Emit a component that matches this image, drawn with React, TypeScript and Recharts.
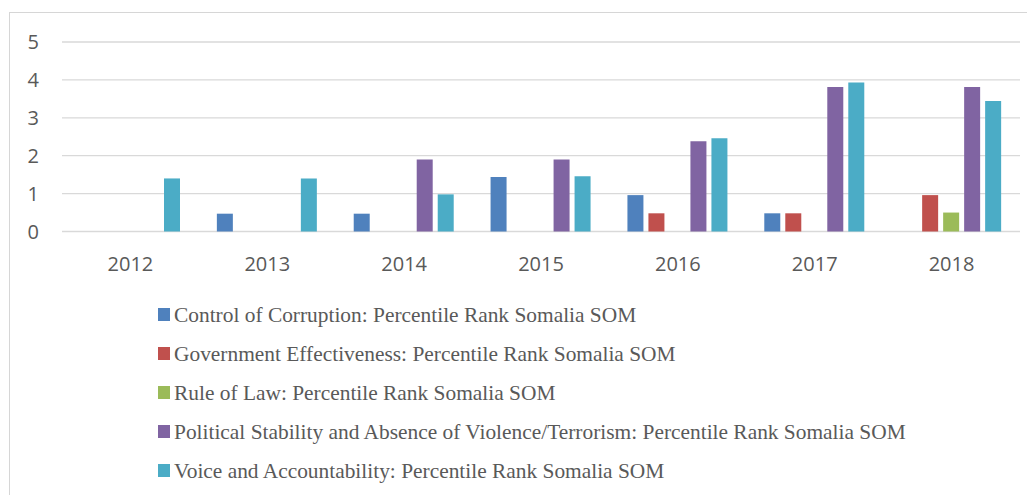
import React from "react";
import { BarChart, Bar, XAxis, YAxis, CartesianGrid } from "recharts";

const years = ["2012", "2013", "2014", "2015", "2016", "2017", "2018"];
const controlOfCorruption = [null, 0.47, 0.47, 1.44, 0.96, 0.48, null];
const governmentEffectiveness = [null, null, null, null, 0.48, 0.48, 0.96];
const ruleOfLaw = [null, null, null, null, null, null, 0.5];
const politicalStability = [null, null, 1.9, 1.9, 2.38, 3.81, 3.81];
const voiceAccountability = [1.4, 1.4, 0.98, 1.46, 2.46, 3.93, 3.44];
const yTicks = [0, 1, 2, 3, 4, 5];

const seriesNames = [
  "Control of Corruption: Percentile Rank Somalia SOM",
  "Government Effectiveness: Percentile Rank Somalia SOM",
  "Rule of Law: Percentile Rank Somalia SOM",
  "Political Stability and Absence of Violence/Terrorism: Percentile Rank Somalia SOM",
  "Voice and Accountability: Percentile Rank Somalia SOM",
];
const seriesKeys = ["cc", "ge", "rl", "ps", "va"];
const seriesColors = ["#4F81BD", "#C0504D", "#9BBB59", "#8064A2", "#4BACC6"];
const seriesValues = [
  controlOfCorruption,
  governmentEffectiveness,
  ruleOfLaw,
  politicalStability,
  voiceAccountability,
];

const data = years.map((y, i) => {
  const row: Record<string, any> = { year: y };
  seriesKeys.forEach((k, s) => {
    row[k] = seriesValues[s][i];
  });
  return row;
});

const axisFont = { fontFamily: "'Open Sans', sans-serif", fontSize: 20, fill: "#595959" };

export default function App() {
  return (
    <div style={{ position: "relative", width: 1027, height: 487, overflow: "hidden" }}>
      <div
        style={{
          position: "absolute",
          left: 1,
          top: 4,
          width: 1100,
          height: 600,
          borderTop: "1px solid #d6d6d6",
          borderLeft: "1px solid #d6d6d6",
        }}
      />
      <div style={{ position: "absolute", left: 0, top: 0 }}>
        <BarChart
          width={1027}
          height={300}
          data={data}
          margin={{ top: 34, right: 15, bottom: 36.5, left: 0 }}
          barSize={16}
          barGap={5}
        >
          <CartesianGrid vertical={false} stroke="#d9d9d9" strokeWidth={1.3} />
          <XAxis
            dataKey="year"
            height={40}
            axisLine={false}
            tickLine={false}
            tickSize={0}
            tickMargin={25}
            tick={axisFont}
            interval={0}
          />
          <YAxis
            width={54}
            domain={[0, 5]}
            ticks={yTicks}
            axisLine={false}
            tickLine={false}
            tickSize={0}
            tickMargin={23}
            tick={axisFont}
            interval={0}
          />
          {seriesKeys.map((k, s) => (
            <Bar key={k} dataKey={k} fill={seriesColors[s]} isAnimationActive={false} />
          ))}
        </BarChart>
      </div>
      <svg
        width={1027}
        height={487}
        style={{ position: "absolute", left: 0, top: 0, pointerEvents: "none" }}
      >
        {seriesNames.map((name, s) => {
          const base = 314 + s * 39;
          return (
            <g key={name}>
              <rect x={150} y={base - 14} width={12} height={13} fill={seriesColors[s]} />
              <text
                x={166}
                y={base}
                fontFamily="'Liberation Serif', 'Times New Roman', serif"
                fontSize={21.4}
                fill="#595959"
              >
                {name}
              </text>
            </g>
          );
        })}
      </svg>
    </div>
  );
}
